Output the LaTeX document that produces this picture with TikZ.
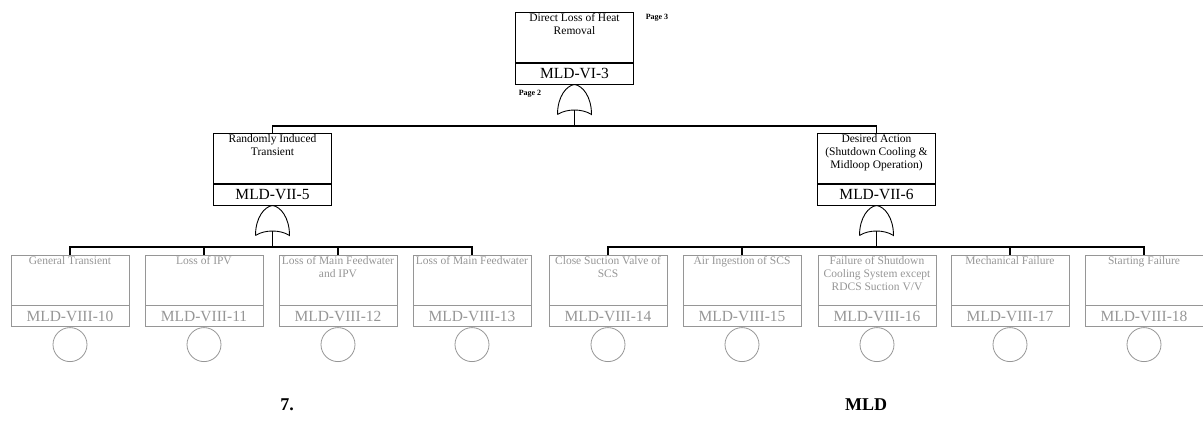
\documentclass[tikz,border=0pt]{standalone}
\usepackage{fontspec}
\setmainfont{Liberation Serif}
\usetikzlibrary{positioning}
\definecolor{fgray}{RGB}{150,150,150}

\newcommand{\orgate}[2]{%
  \begin{scope}[shift={(#2)}]
    \draw[gateline] (-17,30) .. controls (-17,12) and (-8,1) .. (0,0)
      .. controls (8,1) and (17,12) .. (17,30)
      .. controls (8,24) and (-8,24) .. (-17,30);
    \coordinate (#1) at (0,25.5);
  \end{scope}}

\begin{document}
\begin{tikzpicture}[
  x=1pt, y=-1pt,
  descbox/.style={draw, minimum width=118pt, minimum height=50pt, inner sep=0pt, line width=1pt},
  codebox/.style={draw, minimum width=118pt, minimum height=21pt, inner sep=0pt, line width=1pt,
                  font=\fontsize{15.5}{17}\selectfont},
  desctext/.style={font=\fontsize{11.5}{13}\selectfont, align=center, inner sep=0pt},
  basic/.style={draw, circle, minimum size=34pt, inner sep=0pt, line width=0.8pt},
  faint/.style={draw=fgray, text=fgray, line width=0.8pt},
  gateline/.style={line width=0.9pt},
  link/.style={line width=1.1pt},
  pagetag/.style={font=\fontsize{8}{9}\selectfont\bfseries, inner sep=0pt},
  captext/.style={font=\fontsize{18}{20}\selectfont\bfseries}
]
  \useasboundingbox (0,0) rectangle (1203,421);

  % top event
  \node[descbox] (top) at (574.5,37) {};
  \node[desctext, below=2pt of top.north] (toptext) {Direct Loss of Heat\\Removal};
  \node[codebox, below=0pt of top] (topcode) {MLD-VI-3};
  \node[pagetag] (pagea) at (657,18) {Page 3};
  \node[pagetag] (pageb) at (530,94) {Page 2};
  \orgate{gtop}{topcode.south}

  % intermediate events
  \node[descbox] (ma) at (272.5,158) {};
  \node[desctext, below=2pt of ma.north] (matext) {Randomly Induced\\Transient};
  \node[codebox, below=0pt of ma] (macode) {MLD-VII-5};
  \orgate{gma}{macode.south}

  \node[descbox] (mb) at (876.5,158) {};
  \node[desctext, below=2pt of mb.north] (mbtext) {Desired Action\\(Shutdown Cooling \&\\Midloop Operation)};
  \node[codebox, below=0pt of mb] (mbcode) {MLD-VII-6};
  \orgate{gmb}{mbcode.south}

  % basic events, left branch
  \node[descbox, faint] (ba) at (70,280) {};
  \node[desctext, text=fgray, below=2pt of ba.north] (batext) {General Transient};
  \node[codebox, faint, below=0pt of ba] (bacode) {MLD-VIII-10};
  \node[basic, faint, below=0pt of bacode] (baend) {};

  \node[descbox, faint] (bb) at (204,280) {};
  \node[desctext, text=fgray, below=2pt of bb.north] (bbtext) {Loss of IPV};
  \node[codebox, faint, below=0pt of bb] (bbcode) {MLD-VIII-11};
  \node[basic, faint, below=0pt of bbcode] (bbend) {};

  \node[descbox, faint] (bc) at (338,280) {};
  \node[desctext, text=fgray, below=2pt of bc.north] (bctext) {Loss of Main Feedwater\\and IPV};
  \node[codebox, faint, below=0pt of bc] (bccode) {MLD-VIII-12};
  \node[basic, faint, below=0pt of bccode] (bcend) {};

  \node[descbox, faint] (bd) at (472,280) {};
  \node[desctext, text=fgray, below=2pt of bd.north] (bdtext) {Loss of Main Feedwater};
  \node[codebox, faint, below=0pt of bd] (bdcode) {MLD-VIII-13};
  \node[basic, faint, below=0pt of bdcode] (bdend) {};

  % basic events, right branch
  \node[descbox, faint] (be) at (608,280) {};
  \node[desctext, text=fgray, below=2pt of be.north] (betext) {Close Suction Valve of\\SCS};
  \node[codebox, faint, below=0pt of be] (becode) {MLD-VIII-14};
  \node[basic, faint, below=0pt of becode] (beend) {};

  \node[descbox, faint] (bf) at (742,280) {};
  \node[desctext, text=fgray, below=2pt of bf.north] (bftext) {Air Ingestion of SCS};
  \node[codebox, faint, below=0pt of bf] (bfcode) {MLD-VIII-15};
  \node[basic, faint, below=0pt of bfcode] (bfend) {};

  \node[descbox, faint] (bg) at (877,280) {};
  \node[desctext, text=fgray, below=2pt of bg.north] (bgtext) {Failure of Shutdown\\Cooling System except\\RDCS Suction V/V};
  \node[codebox, faint, below=0pt of bg] (bgcode) {MLD-VIII-16};
  \node[basic, faint, below=0pt of bgcode] (bgend) {};

  \node[descbox, faint] (bh) at (1010,280) {};
  \node[desctext, text=fgray, below=2pt of bh.north] (bhtext) {Mechanical Failure};
  \node[codebox, faint, below=0pt of bh] (bhcode) {MLD-VIII-17};
  \node[basic, faint, below=0pt of bhcode] (bhend) {};

  \node[descbox, faint] (bi) at (1144,280) {};
  \node[desctext, text=fgray, below=2pt of bi.north] (bitext) {Starting Failure};
  \node[codebox, faint, below=0pt of bi] (bicode) {MLD-VIII-18};
  \node[basic, faint, below=0pt of bicode] (biend) {};

  % connectors
  \coordinate (bartop) at (574.5,126);
  \coordinate (barma) at (272.5,247);
  \coordinate (barmb) at (876.5,247);
  \draw[link] (gtop) -- (bartop);
  \draw[link] (ma.north) |- (bartop) -| (mb.north);
  \draw[link] (gma) -- (barma);
  \draw[link] (ba.north) |- (barma) -| (bd.north);
  \draw[link] (bb.north) -- (bb.north |- barma);
  \draw[link] (bc.north) -- (bc.north |- barma);
  \draw[link] (gmb) -- (barmb);
  \draw[link] (be.north) |- (barmb) -| (bi.north);
  \draw[link] (bf.north) -- (bf.north |- barmb);
  \draw[link] (bh.north) -- (bh.north |- barmb);

  % caption
  \node[captext] (capnum) at (287,405) {7.};
  \node[captext] (capmld) at (866,405) {MLD};
\end{tikzpicture}
\end{document}
